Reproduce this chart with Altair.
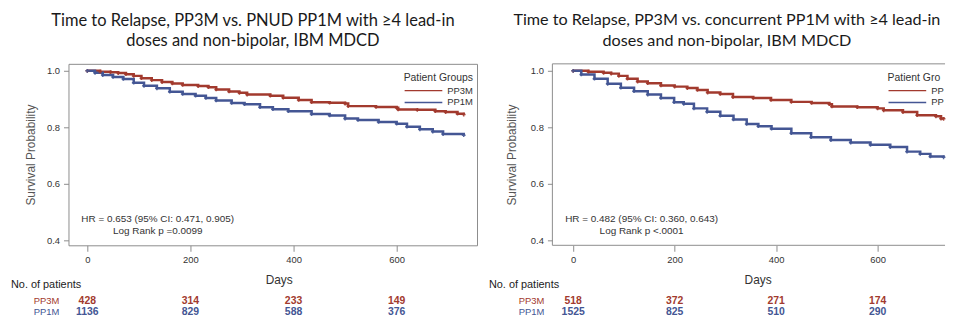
import altair as alt
import pandas as pd

RED = "#A23A2E"
BLUE = "#445694"
FRAME = "#8c8c8c"
AX_FONT = "Liberation Sans"
TITLE_FONT = "Lato"
GROUPS = ["PP3M", "PP1M"]

# ---- Left panel: PP3M vs PNUD PP1M ----
L_PP3M_DAYS = [0, 25, 45, 60, 75, 90, 105, 125, 145, 165, 185, 215, 235, 250, 275, 295, 310,
               355, 380, 410, 435, 470, 500, 506, 560, 600, 603, 640, 675, 695, 718, 730]
L_PP3M_SURV = [1.000, 0.997, 0.995, 0.992, 0.988, 0.982, 0.974, 0.967, 0.960, 0.955, 0.950,
               0.946, 0.942, 0.934, 0.927, 0.922, 0.916, 0.912, 0.905, 0.897, 0.889, 0.887,
               0.884, 0.875, 0.872, 0.869, 0.863, 0.862, 0.857, 0.854, 0.848, 0.845]
L_PP1M_DAYS = [0, 15, 30, 50, 70, 90, 110, 135, 160, 185, 210, 230, 250, 280, 305, 335, 360,
               390, 435, 470, 500, 525, 565, 600, 620, 645, 670, 690, 730]
L_PP1M_SURV = [1.000, 0.993, 0.985, 0.978, 0.971, 0.958, 0.947, 0.938, 0.926, 0.918, 0.912,
               0.904, 0.895, 0.886, 0.882, 0.871, 0.864, 0.857, 0.847, 0.842, 0.831, 0.826,
               0.819, 0.813, 0.802, 0.793, 0.785, 0.776, 0.772]

# ---- Right panel: PP3M vs concurrent PP1M ----
R_PP3M_DAYS = [0, 30, 60, 75, 90, 107, 127, 147, 173, 200, 225, 245, 265, 290, 315, 355, 390,
               430, 470, 505, 510, 560, 600, 612, 650, 678, 715, 725, 730]
R_PP3M_SURV = [1.000, 0.997, 0.993, 0.990, 0.982, 0.972, 0.962, 0.956, 0.948, 0.944, 0.939,
               0.932, 0.923, 0.918, 0.907, 0.904, 0.897, 0.890, 0.886, 0.882, 0.874, 0.871,
               0.867, 0.860, 0.854, 0.843, 0.839, 0.831, 0.830]
R_PP1M_DAYS = [0, 16, 42, 68, 94, 120, 147, 173, 199, 218, 238, 264, 290, 316, 342, 365, 391,
               430, 469, 508, 547, 586, 625, 658, 684, 704, 730]
R_PP1M_SURV = [1.000, 0.987, 0.972, 0.954, 0.940, 0.928, 0.916, 0.904, 0.889, 0.883, 0.867,
               0.855, 0.841, 0.828, 0.812, 0.804, 0.795, 0.779, 0.765, 0.755, 0.746, 0.738,
               0.730, 0.714, 0.706, 0.697, 0.694]

# ---- Number at risk ----
RISK_DAYS = [0, 200, 400, 600]
L_RISK_PP3M = [428, 314, 233, 149]
L_RISK_PP1M = [1136, 829, 588, 376]
R_RISK_PP3M = [518, 372, 271, 174]
R_RISK_PP1M = [1525, 825, 510, 290]

X_TICKS = [0, 200, 400, 600]
Y_TICKS = [0.4, 0.6, 0.8, 1.0]

L_TITLE = ["Time to Relapse, PP3M vs. PNUD PP1M with \u22654 lead-in",
           "doses and non-bipolar, IBM MDCD"]
R_TITLE = ["Time to Relapse, PP3M vs. concurrent PP1M with \u22654 lead-in",
           "doses and non-bipolar, IBM MDCD"]
L_HR = "HR = 0.653 (95% CI: 0.471, 0.905)"
L_LR = "Log Rank p =0.0099"
R_HR = "HR = 0.482 (95% CI: 0.360, 0.643)"
R_LR = "Log Rank p <.0001"

H = 183
ROW3_Y = 239
ROW1_Y = 250
NOP_Y = 223
DAYS_Y = 35


def one(text):
    return pd.DataFrame({"t": [text]})


def text_layer(text, x, y, size, color, align="left", limit=0):
    kw = {}
    if limit:
        kw = {"limit": limit, "ellipsis": "\u200b"}
    return alt.Chart(one(text)).mark_text(
        align=align, baseline="middle", font=AX_FONT, fontSize=size, color=color, **kw
    ).encode(x=alt.value(x), y=alt.value(y), text="t:N")


def panel(p3d, p3s, p1d, p1s, r3, r1, title, hr, lr, width, xdom, ytx, xtx, left_ext,
          lab_x, full_frame, title_dx, title_size):
    curves = pd.DataFrame({
        "day": p3d + p1d,
        "surv": p3s + p1s,
        "group": ["PP3M"] * len(p3d) + ["PP1M"] * len(p1d),
    })
    xscale = alt.Scale(domain=xdom, nice=False, zero=False)
    yscale = alt.Scale(domain=[0.3825, 1.0246], nice=False, zero=False)
    color = alt.Color("group:N", scale=alt.Scale(domain=GROUPS, range=[RED, BLUE]), legend=None)
    xaxis = alt.Axis(values=X_TICKS, format="d", grid=False, domain=False, tickColor=FRAME,
                     tickSize=6, labelFont=AX_FONT, labelFontSize=9.5, labelColor="#333333",
                     labelPadding=3, title="Days", titleFont=AX_FONT, titleFontSize=12,
                     titleFontWeight="normal", titleColor="#333333", titleX=xtx, titleY=DAYS_Y,
                     titleBaseline="middle", titleAlign="center")
    yaxis = alt.Axis(values=Y_TICKS, format=".1f", grid=False, domain=False, tickColor=FRAME,
                     tickSize=5, labelFont=AX_FONT, labelFontSize=9.5, labelColor="#333333",
                     labelPadding=4, title="Survival Probability", titleFont=AX_FONT,
                     titleFontSize=12, titleFontWeight="normal", titleColor="#555555",
                     titleX=ytx, titleY=H / 2, titleAngle=-90, titleBaseline="middle",
                     titleAlign="center")
    base = alt.Chart(curves)
    line = base.mark_line(interpolate="step-after", strokeWidth=2.5).encode(
        x=alt.X("day:Q", scale=xscale, axis=xaxis),
        y=alt.Y("surv:Q", scale=yscale, axis=yaxis),
        color=color,
    )
    pts = base.mark_point(shape="cross", filled=True, size=14, opacity=0.9).encode(
        x="day:Q", y="surv:Q", color=color)

    risk3 = alt.Chart(pd.DataFrame({"day": RISK_DAYS, "n": r3})).mark_text(
        font=AX_FONT, fontSize=10.5, fontWeight="bold", color=RED, baseline="middle"
    ).encode(x="day:Q", y=alt.value(ROW3_Y), text="n:Q")
    risk1 = alt.Chart(pd.DataFrame({"day": RISK_DAYS, "n": r1})).mark_text(
        font=AX_FONT, fontSize=10.5, fontWeight="bold", color=BLUE, baseline="middle"
    ).encode(x="day:Q", y=alt.value(ROW1_Y), text="n:Q")

    leg_x = 338
    room = width - leg_x
    layers = [line, pts, risk3, risk1,
              text_layer("No. of patients", -left_ext, NOP_Y, 11, "#222222"),
              text_layer("PP3M", lab_x, ROW3_Y, 9.5, RED),
              text_layer("PP1M", lab_x, ROW1_Y, 9.5, BLUE),
              text_layer(hr, 90, 157, 10, "#333333", align="center"),
              text_layer(lr, 90, 169, 10, "#333333", align="center"),
              text_layer("Patient Groups", leg_x, 14, 10.5, "#333333", limit=room),
              alt.Chart(one("a")).mark_rule(color=RED, strokeWidth=1.5).encode(
                  x=alt.value(leg_x + 1), x2=alt.value(leg_x + 39), y=alt.value(27)),
              alt.Chart(one("b")).mark_rule(color=BLUE, strokeWidth=1.5).encode(
                  x=alt.value(leg_x + 1), x2=alt.value(leg_x + 39), y=alt.value(39)),
              text_layer("PP3M", leg_x + 44, 27, 9.5, "#333333", limit=room - 44),
              text_layer("PP1M", leg_x + 44, 39, 9.5, "#333333", limit=room - 44)]
    if not full_frame:
        layers += [
            alt.Chart(one("t")).mark_rule(color=FRAME, strokeWidth=1).encode(
                x=alt.value(0), x2=alt.value(width), y=alt.value(0)),
            alt.Chart(one("b")).mark_rule(color=FRAME, strokeWidth=1).encode(
                x=alt.value(0), x2=alt.value(width), y=alt.value(H)),
            alt.Chart(one("l")).mark_rule(color=FRAME, strokeWidth=1).encode(
                x=alt.value(0), y=alt.value(0), y2=alt.value(H)),
        ]
    view = alt.ViewBackground(stroke=FRAME if full_frame else "transparent", strokeWidth=1)
    return alt.layer(*layers).properties(
        width=width, height=H, view=view,
        title=alt.TitleParams(text=title, font=TITLE_FONT, fontSize=title_size,
                              fontWeight="normal", color="#1a1a1a", lineHeight=21,
                              anchor="middle", dx=title_dx, offset=14),
    )


left = panel(L_PP3M_DAYS, L_PP3M_SURV, L_PP1M_DAYS, L_PP1M_SURV, L_RISK_PP3M, L_RISK_PP1M,
             L_TITLE, L_HR, L_LR, 412, [-36.5, 755.8], -38, 212, 58, -35, True, -20, 16.6)
right = panel(R_PP3M_DAYS, R_PP3M_SURV, R_PP1M_DAYS, R_PP1M_SURV, R_RISK_PP3M, R_RISK_PP1M,
              R_TITLE, R_HR, R_LR, 396, [-41, 732.9], -41, 207, 64, -34, False, -22, 16.3)

chart = alt.hconcat(left, right, spacing=10).properties(
    padding={"left": 2, "top": 2, "right": 0, "bottom": 0}
).configure_view(stroke=FRAME)

chart.save("out.html", embed_options={"renderer": "svg", "actions": False})
